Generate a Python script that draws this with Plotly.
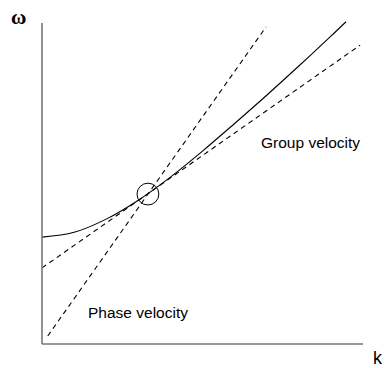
import plotly.graph_objects as go

# Dispersion curve omega(k), sampled points
k_curve = [0.0, 1.0, 2.0, 3.0, 4.0, 5.0, 6.0, 7.0, 8.0, 9.0, 9.47]
w_curve = [3.33, 3.48, 3.89, 4.48, 5.20, 6.01, 6.87, 7.75, 8.66, 9.59, 10.04]

# Phase-velocity line (through the origin) and group-velocity tangent line
k_phase = [0.18, 6.98]
w_phase = [0.25, 9.88]
k_group = [0.0, 9.91]
w_group = [2.37, 9.31]

# Point of tangency
k_touch = 3.30
w_touch = 4.67

fig = go.Figure()

fig.add_trace(go.Scatter(x=k_curve, y=w_curve, mode="lines",
                         line=dict(color="black", width=1.1, shape="spline"),
                         hoverinfo="skip"))
fig.add_trace(go.Scatter(x=k_phase, y=w_phase, mode="lines",
                         line=dict(color="black", width=1.1, dash="5px,4px"),
                         hoverinfo="skip"))
fig.add_trace(go.Scatter(x=k_group, y=w_group, mode="lines",
                         line=dict(color="black", width=1.1, dash="5px,4px"),
                         hoverinfo="skip"))

r = 0.34
fig.add_shape(type="circle", xref="x", yref="y",
              x0=k_touch - r, x1=k_touch + r, y0=w_touch - r, y1=w_touch + r,
              line=dict(color="black", width=1))

# Axes drawn as plain lines
axis_col = "#777777"
fig.add_shape(type="line", xref="x", yref="y", x0=0, y0=0, x1=0, y1=10.0,
              line=dict(color=axis_col, width=1.6))
fig.add_shape(type="line", xref="x", yref="y", x0=0, y0=0, x1=10.0, y1=0,
              line=dict(color=axis_col, width=1.6))

fig.add_annotation(x=-0.72, y=10.2, text="<b>ω</b>", showarrow=False,
                   font=dict(family="Liberation Serif", size=21, color="black"))
fig.add_annotation(x=10.47, y=-0.44, text="k", showarrow=False,
                   font=dict(family="Liberation Sans", size=18, color="black"))
fig.add_annotation(x=8.35, y=6.29, text="Group velocity", showarrow=False,
                   font=dict(family="Liberation Sans", size=15.5, color="black"))
fig.add_annotation(x=2.99, y=0.97, text="Phase velocity", showarrow=False,
                   font=dict(family="Liberation Sans", size=15.5, color="black"))

fig.update_layout(
    width=385, height=368,
    margin=dict(l=0, r=0, t=0, b=0),
    paper_bgcolor="white", plot_bgcolor="white",
    showlegend=False,
    xaxis=dict(range=[-1.308, 10.685], visible=False, fixedrange=True),
    yaxis=dict(range=[-0.748, 10.717], visible=False, fixedrange=True),
)

fig.write_html("out.html")
